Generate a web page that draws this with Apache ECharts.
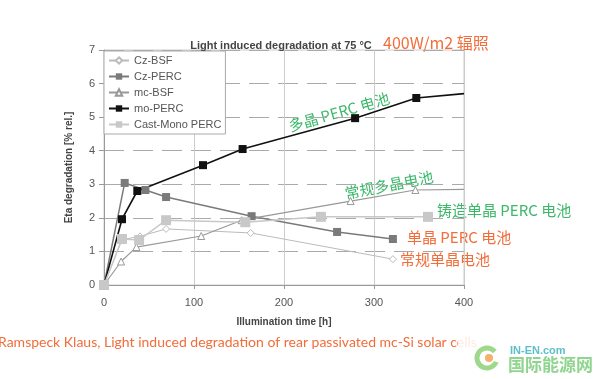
<!DOCTYPE html>
<html>
<head>
<meta charset="utf-8">
<script src="https://cdn.jsdelivr.net/npm/echarts@6/dist/echarts.min.js"></script>
<style>html,body{margin:0;padding:0;background:#fff;}#c{width:600px;height:379px;}</style>
</head>
<body>
<div id="c"></div>
<script>
// ---- data ----
var xTicks = [0, 100, 200, 300, 400];
var yTicks = [0, 1, 2, 3, 4, 5, 6, 7];
var seriesNames = ['Cz-BSF', 'Cz-PERC', 'mc-BSF', 'mo-PERC', 'Cast-Mono PERC'];
var czBsfX = [0, 20, 40, 69, 163, 321];
var czBsfY = [0, 1.35, 1.45, 1.67, 1.55, 0.77];
var czPercX = [0, 23, 46, 69, 164, 259, 321];
var czPercY = [0, 3.04, 2.83, 2.62, 2.05, 1.58, 1.37];
var mcBsfX = [0, 19, 36, 108, 153, 274, 346, 400];
var mcBsfY = [0, 0.70, 1.13, 1.46, 1.93, 2.50, 2.83, 2.85];
var moPercX = [0, 20, 37, 110, 154, 279, 347, 400];
var moPercY = [0, 1.96, 2.80, 3.57, 4.05, 4.97, 5.57, 5.70];
var castMonoX = [0, 20, 39, 69, 157, 241, 360];
var castMonoY = [0, 1.37, 1.34, 1.93, 1.87, 2.03, 2.03];

function pts(xs, ys) {
  return xs.map(function (x, i) {
    var p = { value: [x, ys[i]] };
    if (x === 400) { p.symbol = 'none'; }
    return p;
  });
}

var chart = echarts.init(document.getElementById('c'));
var tickFont = { color: '#555', fontSize: 11, fontFamily: 'Liberation Sans' };
var green = '#3bb86a', orange = '#f26d3a';

function mk(name, xs, ys, color, symbol, size, open, lw) {
  return {
    name: name, type: 'line', data: pts(xs, ys),
    symbol: symbol, symbolSize: size, showSymbol: true,
    lineStyle: { color: color, width: lw },
    itemStyle: { color: open ? '#fff' : color, borderColor: color, borderWidth: open ? 1 : 0 },
    emphasis: { disabled: true }, z: 3
  };
}

chart.setOption({
  animation: false,
  backgroundColor: '#fff',
  title: {
    text: 'Light induced degradation at 75 °C',
    left: 276, top: 35, textAlign: 'center',
    textStyle: { fontSize: 11, fontWeight: 'bold', color: '#444', fontFamily: 'Liberation Sans' }
  },
  grid: { left: 104, right: 136, top: 50, bottom: 94, show: true, borderColor: '#ccc', borderWidth: 1 },
  legend: {
    orient: 'vertical', left: 104, top: 51,
    data: seriesNames,
    backgroundColor: '#fff', borderColor: '#aaa', borderWidth: 1,
    padding: [4, 4, 4, 4], itemGap: 5, itemWidth: 20, itemHeight: 8,
    textStyle: { color: '#555', fontSize: 11, fontFamily: 'Liberation Sans' }
  },
  xAxis: {
    type: 'value', min: 0, max: 400, interval: 100,
    name: 'Illumination time [h]', nameLocation: 'middle', nameGap: 32,
    nameTextStyle: { fontSize: 10, fontWeight: 'bold', color: '#444', fontFamily: 'Liberation Sans' },
    axisLine: { show: true, lineStyle: { color: '#999' } },
    axisTick: { show: true, length: 4, lineStyle: { color: '#999' } },
    axisLabel: Object.assign({ margin: 12, formatter: function (v) { return xTicks.indexOf(v) >= 0 ? String(v) : ''; } }, tickFont),
    splitLine: { show: true, lineStyle: { color: '#ccc', width: 1 } }
  },
  yAxis: {
    type: 'value', min: 0, max: 7, interval: 1,
    name: 'Eta degradation [% rel.]', nameLocation: 'middle', nameGap: 30,
    nameTextStyle: { fontSize: 10, fontWeight: 'bold', color: '#444', fontFamily: 'Liberation Sans' },
    axisLine: { show: true, lineStyle: { color: '#999' } },
    axisTick: { show: true, length: 5, lineStyle: { color: '#999' } },
    axisLabel: Object.assign({ margin: 9, formatter: function (v) { return yTicks.indexOf(v) >= 0 ? String(v) : ''; } }, tickFont),
    splitLine: { show: true, lineStyle: { color: '#aaa', width: 1, type: [20, 9] } }
  },
  series: [
    mk('Cz-BSF', czBsfX, czBsfY, '#bbb', 'diamond', 7, true, 1),
    mk('Cz-PERC', czPercX, czPercY, '#7a7a7a', 'rect', 8, false, 1.5),
    mk('mc-BSF', mcBsfX, mcBsfY, '#999', 'triangle', 7, true, 1.2),
    mk('mo-PERC', moPercX, moPercY, '#111', 'rect', 8, false, 1.6),
    mk('Cast-Mono PERC', castMonoX, castMonoY, '#c8c8c8', 'rect', 10, false, 1.5)
  ],
  graphic: [
    { type: 'text', left: 383, top: 35, style: { text: '400W/m2 辐照', fill: orange, fontSize: 16, fontFamily: 'Noto Sans CJK SC' } },
    { type: 'text', x: 339, y: 112, rotation: 16 * Math.PI / 180,
      style: { text: '多晶 PERC 电池', fill: green, fontSize: 15, fontFamily: 'Noto Sans CJK SC', align: 'center', verticalAlign: 'middle' } },
    { type: 'text', x: 389, y: 185, rotation: 11 * Math.PI / 180,
      style: { text: '常规多晶电池', fill: green, fontSize: 15, fontFamily: 'Noto Sans CJK SC', align: 'center', verticalAlign: 'middle' } },
    { type: 'text', left: 437, top: 203, style: { text: '铸造单晶 PERC 电池', fill: green, fontSize: 15, fontFamily: 'Noto Sans CJK SC' } },
    { type: 'text', left: 407, top: 230, style: { text: '单晶 PERC 电池', fill: orange, fontSize: 15, fontFamily: 'Noto Sans CJK SC' } },
    { type: 'text', left: 400, top: 252, style: { text: '常规单晶电池', fill: orange, fontSize: 15, fontFamily: 'Noto Sans CJK SC' } },
    { type: 'text', left: -2, top: 335, style: { text: 'Ramspeck Klaus, Light induced degradation of rear passivated mc-Si solar cells', fill: orange, fontSize: 14, fontFamily: 'Lato' } },
    { type: 'rect', shape: { x: 458, y: 308, width: 140, height: 66 }, style: { fill: 'rgba(255,255,255,0.85)' }, z: 10 },
    { type: 'arc', shape: { cx: 487, cy: 358, r: 10, startAngle: 0.4, endAngle: 5.6 }, style: { fill: 'none', stroke: '#9ed88a', lineWidth: 5 }, z: 11 },
    { type: 'circle', shape: { cx: 489, cy: 358, r: 4 }, style: { fill: '#f5b070' }, z: 11 },
    { type: 'text', left: 510, top: 345, z: 11, style: { text: 'IN-EN.com', fill: '#5cc0c8', fontSize: 11, fontWeight: 'bold', fontFamily: 'Liberation Sans' } },
    { type: 'text', left: 508, top: 356, z: 11, style: { text: '国际能源网', fill: '#8fd48f', fontSize: 17, fontWeight: 'bold', fontFamily: 'Noto Sans CJK SC' } }
  ]
});
</script>
</body>
</html>
